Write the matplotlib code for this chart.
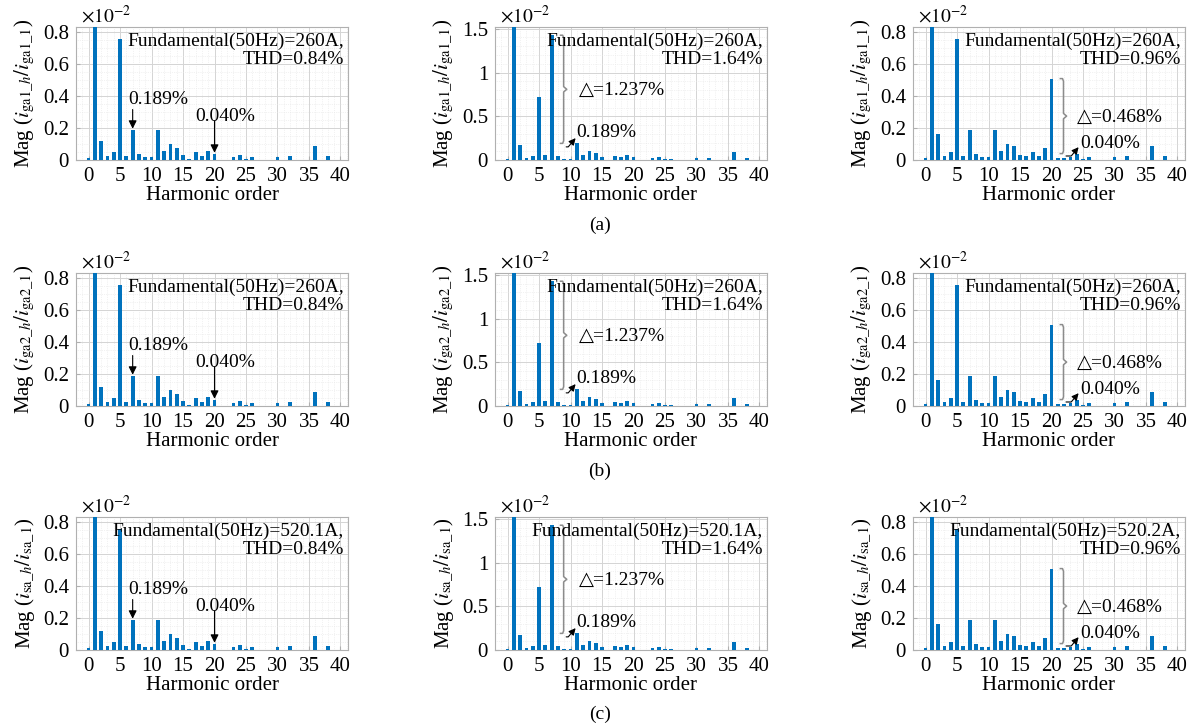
import matplotlib
matplotlib.use("Agg")
import matplotlib.pyplot as plt
from matplotlib.ticker import MultipleLocator, AutoMinorLocator
from matplotlib import font_manager
import numpy as np

serif_name = 'Liberation Serif'
names = {f.name for f in font_manager.fontManager.ttflist}
if serif_name not in names:
    serif_name = 'DejaVu Serif'
plt.rcParams['font.family'] = 'serif'
plt.rcParams['font.serif'] = [serif_name, 'DejaVu Serif']
plt.rcParams['mathtext.fontset'] = 'stix'

orders = list(range(41))
# magnitudes in units of 1e-2 (fundamental clipped)
series_a = [0.012, 100, 0.12, 0.027, 0.052, 0.753, 0.027, 0.189, 0.035, 0.017, 0.017,
            0.189, 0.056, 0.098, 0.073, 0.031, 0.004, 0.048, 0.027, 0.056, 0.040,
            0.002, 0.002, 0.018, 0.033, 0.006, 0.016, 0.002, 0.002, 0.002, 0.018,
            0.002, 0.027, 0.002, 0.002, 0.002, 0.09, 0.002, 0.023, 0.0, 0.0]
series_b = [0.012, 100, 0.17, 0.027, 0.05, 0.725, 0.057, 1.426, 0.045, 0.017, 0.017,
            0.19, 0.06, 0.10, 0.075, 0.03, 0.005, 0.05, 0.03, 0.055, 0.040,
            0.002, 0.002, 0.018, 0.033, 0.006, 0.016, 0.002, 0.002, 0.002, 0.018,
            0.002, 0.027, 0.002, 0.002, 0.002, 0.09, 0.002, 0.023, 0.0, 0.0]
series_c = [0.012, 100, 0.16, 0.027, 0.052, 0.753, 0.027, 0.189, 0.035, 0.017, 0.017,
            0.189, 0.056, 0.098, 0.09, 0.03, 0.027, 0.05, 0.027, 0.075, 0.508,
            0.01, 0.012, 0.02, 0.035, 0.006, 0.016, 0.002, 0.002, 0.002, 0.018,
            0.002, 0.027, 0.002, 0.002, 0.002, 0.09, 0.002, 0.023, 0.0, 0.0]

row_signals = ['ga1', 'ga2', 'sa']
row_captions = ['(a)', '(b)', '(c)']
fund_labels = [['260A', '260A', '260A'],
               ['260A', '260A', '260A'],
               ['520.1A', '520.1A', '520.2A']]
thd_labels = ['0.84%', '1.64%', '0.96%']

col_series = [series_a, series_b, series_c]
col_ylim = [0.83, 1.52]
col_yticks = [[0, 0.2, 0.4, 0.6, 0.8], [0, 0.5, 1, 1.5], [0, 0.2, 0.4, 0.6, 0.8]]
col_yticklabels = [['0', '0.2', '0.4', '0.6', '0.8'], ['0', '0.5', '1', '1.5'],
                   ['0', '0.2', '0.4', '0.6', '0.8']]

W, H = 1200, 723
fig = plt.figure(figsize=(12, 7.23), dpi=100)

col_left = [76, 495, 913]
ax_w = 272
row_top = [27, 273, 517]
ax_h = 133
caption_y = [225, 471, 714]

BLUE = '#0072BD'
GRAY = '#8c8c8c'
FS = 15
FT = 14
TRI_FAMILY = [serif_name, 'DejaVu Sans']


def brace(ax, x, y0, y1, w, ymax):
    ym = (y0 + y1) / 2
    d = 0.02 * ymax
    ax.plot([x - w, x - w * 0.3, x, x, x + w, x, x, x - w * 0.3, x - w],
            [y1, y1, y1 - d, ym + d, ym, ym - d, y0 + d, y0, y0],
            color=GRAY, lw=1.1, clip_on=False, zorder=4)


for r in range(3):
    for c in range(3):
        left = col_left[c] / W
        bottom = 1 - (row_top[r] + ax_h) / H
        ax = fig.add_axes([left, bottom, ax_w / W, ax_h / H])
        vals = col_series[c]
        ax.bar(orders, vals, width=0.6, color=BLUE, zorder=3)
        ymax = col_ylim[1] if c == 1 else col_ylim[0]
        ax.set_ylim(0, ymax)
        ax.set_xlim(-2, 41.2)
        ax.set_xticks(range(0, 41, 5))
        ax.set_yticks(col_yticks[c])
        ax.set_yticklabels(col_yticklabels[c])
        ax.xaxis.set_minor_locator(MultipleLocator(1))
        ax.yaxis.set_minor_locator(AutoMinorLocator(4 if c != 1 else 5))
        ax.grid(True, which='major', color='#d4d4d4', lw=0.7, zorder=0)
        ax.grid(True, which='minor', color='#e6e6e6', lw=0.5, ls=':', zorder=0)
        ax.set_axisbelow(True)
        for sp in ax.spines.values():
            sp.set_color('#b0b0b0')
            sp.set_linewidth(0.8)
        ax.tick_params(which='both', direction='in', labelsize=FS, color='#b0b0b0',
                       length=3, pad=5)
        ax.tick_params(which='minor', length=0)
        sig = row_signals[r]
        ax.set_ylabel(r'Mag ($i_{\mathrm{' + sig + r'\_}h}/i_{\mathrm{' + sig + r'\_1}}$)',
                      fontsize=FS, labelpad=4)
        ax.set_xlabel('Harmonic order', fontsize=FS, labelpad=0)
        ax.text(0.02, 1.0, r'$\times10^{-2}$', transform=ax.transAxes, fontsize=14,
                ha='left', va='bottom')
        ax.text(0.985, 0.96, 'Fundamental(50Hz)=' + fund_labels[r][c] + ',\nTHD=' + thd_labels[c],
                transform=ax.transAxes, ha='right', va='top', fontsize=FT, linespacing=1.1,
                zorder=5)

        if c == 0:
            ax.text(6.3, 0.38, '0.189%', fontsize=FT, ha='left', va='center')
            ax.annotate('', xy=(7, 0.195), xytext=(7, 0.315),
                        arrowprops=dict(arrowstyle='-|>', color='k', lw=0.8,
                                        mutation_scale=12, shrinkA=0, shrinkB=0))
            ax.text(16.9, 0.27, '0.040%', fontsize=FT, ha='left', va='center')
            ax.annotate('', xy=(20, 0.045), xytext=(20, 0.245),
                        arrowprops=dict(arrowstyle='-|>', color='k', lw=0.8,
                                        mutation_scale=12, shrinkA=0, shrinkB=0))
        elif c == 1:
            brace(ax, 8.9, 0.19, 1.426, 0.5, ymax)
            ax.text(11.3, 0.80, '△=1.237%', fontsize=FT, ha='left', va='center',
                    family=TRI_FAMILY)
            ax.text(10.9, 0.31, '0.189%', fontsize=FT, ha='left', va='center')
            ax.annotate('', xy=(10.8, 0.25), xytext=(9.3, 0.15),
                        arrowprops=dict(arrowstyle='-|>', color='k', lw=0.8,
                                        mutation_scale=10, shrinkA=0, shrinkB=0,
                                        connectionstyle='angle,angleA=0,angleB=50,rad=0'))
        else:
            brace(ax, 21.9, 0.04, 0.508, 0.5, ymax)
            ax.text(24.1, 0.266, '△=0.468%', fontsize=FT, ha='left', va='center',
                    family=TRI_FAMILY)
            ax.text(24.6, 0.10, '0.040%', fontsize=FT, ha='left', va='center')
            ax.annotate('', xy=(24.3, 0.08), xytext=(22.3, 0.025),
                        arrowprops=dict(arrowstyle='-|>', color='k', lw=0.8,
                                        mutation_scale=10, shrinkA=0, shrinkB=0,
                                        connectionstyle='angle,angleA=0,angleB=50,rad=0'))

    fig.text(0.5, 1 - caption_y[r] / H, row_captions[r], ha='center', va='center', fontsize=14)

fig.savefig('out.png', dpi=100)
